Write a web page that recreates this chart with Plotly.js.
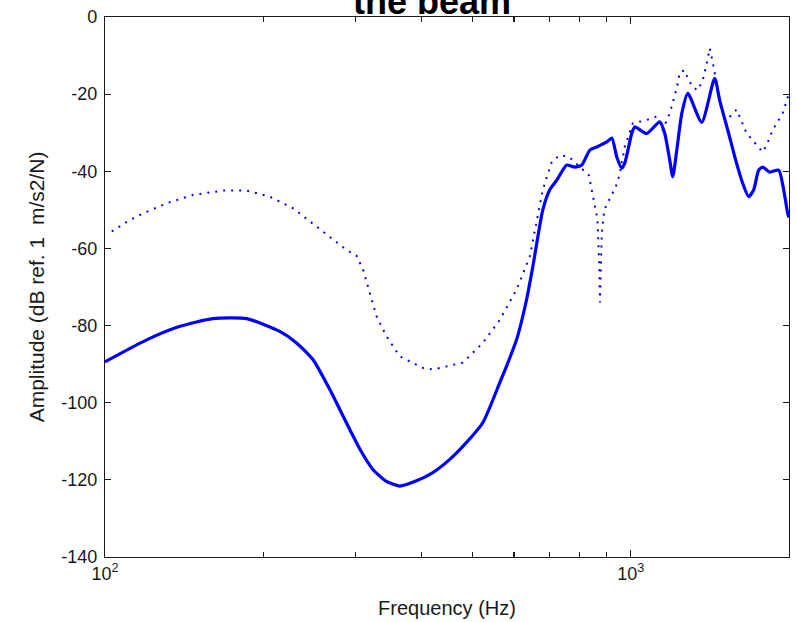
<!DOCTYPE html>
<html>
<head>
<meta charset="utf-8">
<script src="https://cdn.plot.ly/plotly-3.0.1.min.js"></script>
<style>html,body{margin:0;padding:0;background:#fff;}#plot{width:796px;height:622px;}</style>
</head>
<body>
<div id="plot"></div>
<script>
// Solid curve: frequency (Hz) and amplitude (dB)
const solidFreq = [100, 120, 138.9, 160.4, 186, 215, 231.4, 248.6, 267.7, 279.8, 292.3, 305.3, 323.2, 342.2, 363.8, 390.2, 420.4, 452.7, 487.2, 523.1, 563.6, 606.4, 633.6, 651.3, 680.4, 701.5, 723.4, 755.6, 782.5, 806.8, 835.9, 861.9, 900.5, 920.4, 940.7, 961.4, 974.1, 1004.4, 1017.6, 1072.5, 1135.5, 1160.6, 1186.3, 1202, 1223.5, 1250.6, 1283.9, 1364.6, 1444.4, 1476.4, 1535.7, 1583.5, 1632.7, 1676.2, 1713.3, 1751.2, 1782.5, 1837.9, 1911.7, 1953.9, 1988.4, 2000];
const solidAmp  = [-89.4, -83.7, -80.2, -78.2, -78.2, -81.5, -84.5, -88.8, -96.6, -101.8, -107, -112, -117.3, -120.3, -121.6, -120.3, -118.1, -114.7, -110.3, -105.2, -94.8, -83.7, -73.3, -64.7, -50, -44.8, -42.3, -38.4, -38.9, -38.4, -34.5, -33.7, -32.4, -31.4, -36.3, -39.2, -37.9, -30.2, -28.5, -30.2, -27.2, -30.2, -37.1, -41.4, -34.5, -25, -19.8, -27.3, -15.9, -21.6, -30.2, -37.1, -43.1, -46.6, -44.8, -39.7, -38.9, -40.2, -39.7, -44.8, -50.9, -52];

// Dotted curve: frequency (Hz) and amplitude (dB)
const dotFreq = [103, 111.6, 120, 131, 147.2, 167.9, 186, 205.9, 228, 245.3, 263.9, 288, 301, 309.8, 319, 328.5, 343.2, 363.8, 402.9, 420.4, 479.4, 523.1, 563.6, 606.4, 642.7, 680.4, 707.8, 732.8, 762.3, 799.8, 832.2, 850.6, 864.5, 871, 874, 881, 890.6, 916.2, 936.6, 951, 974.1, 1009, 1072, 1120, 1150, 1186, 1223, 1240, 1267, 1284, 1312, 1341, 1371, 1395, 1413, 1432, 1457, 1489, 1515, 1590, 1662, 1782, 1814, 1862, 1945, 2000];
const dotAmp  = [-55.6, -52.6, -50.5, -48.3, -46.1, -45, -45, -46.6, -49.6, -53, -56.5, -60.4, -61.9, -65.6, -71.6, -77.6, -82.8, -88, -91, -91.4, -89.6, -84.5, -78.5, -70.7, -62.1, -44.8, -37.5, -35.8, -36.2, -38.8, -41, -47.5, -52.6, -64, -74, -56, -50, -46.6, -44, -41.2, -33.6, -27.6, -26.7, -25.8, -29.3, -25, -18.5, -14.3, -13.8, -15.9, -18.2, -19, -16.4, -12, -8.1, -11.7, -17.2, -24, -27, -24, -30.2, -35, -33.2, -29.3, -25, -19.8];

// Axis ticks
const xTickVals = [100, 1000];
const xTickText = ['10<sup>2</sup>', '10<sup>3</sup>'];
const xMinorVals = [200, 300, 400, 500, 600, 700, 800, 900, 2000];
const yTickVals = [-140, -120, -100, -80, -60, -40, -20, 0];
const yTickText = ['-140', '-120', '-100', '-80', '-60', '-40', '-20', '0'];

const titleText = 'the beam';
const xTitle = 'Frequency (Hz)';
const yTitle = 'Amplitude (dB ref. 1  m/s2/N)';

const FONT = 'Liberation Sans, Arial, Helvetica, sans-serif';
const AX = '#1a1a1a';

const traces = [
  {x: dotFreq, y: dotAmp, type: 'scatter', mode: 'lines',
   line: {color: '#0000FF', width: 2, dash: '2px,6px'}, hoverinfo: 'skip'},
  {x: solidFreq, y: solidAmp, type: 'scatter', mode: 'lines',
   line: {color: '#0000FF', width: 3.2, shape: 'spline', smoothing: 0.6}, hoverinfo: 'skip'}
];

const layout = {
  width: 796, height: 622,
  margin: {l: 105, r: 7, t: 17, b: 65, pad: 0},
  paper_bgcolor: '#ffffff', plot_bgcolor: '#ffffff',
  showlegend: false,
  font: {family: FONT, size: 17, color: AX},
  xaxis: {
    type: 'log', range: [2, Math.log10(2000)],
    tickmode: 'array', tickvals: xTickVals, ticktext: xTickText,
    ticks: 'inside', ticklen: 7, tickwidth: 1.2, tickcolor: AX,
    minor: {tickmode: 'array', tickvals: xMinorVals, ticks: 'inside', ticklen: 5, tickwidth: 1.2, tickcolor: AX, showgrid: false},
    showline: true, linecolor: AX, linewidth: 1.2, mirror: 'allticks',
    showgrid: false, zeroline: false,
    tickfont: {family: FONT, size: 18, color: AX},
    title: {text: xTitle, font: {family: FONT, size: 20, color: AX}, standoff: 18}
  },
  yaxis: {
    range: [-140, 0],
    tickmode: 'array', tickvals: yTickVals, ticktext: yTickText,
    ticks: 'inside', ticklen: 6, tickwidth: 1.2, tickcolor: AX,
    ticklabelstandoff: 3,
    showline: true, linecolor: AX, linewidth: 1.2, mirror: 'allticks',
    showgrid: false, zeroline: false,
    tickfont: {family: FONT, size: 18, color: AX},
    title: {text: yTitle, font: {family: FONT, size: 21, color: AX}, standoff: 10}
  },
  annotations: [{
    text: '<b>' + titleText + '</b>', xref: 'paper', yref: 'paper',
    x: 0.478, y: 0.987, xanchor: 'center', yanchor: 'bottom',
    showarrow: false, font: {family: FONT, size: 36, color: '#000000'}
  }]
};

Plotly.newPlot('plot', traces, layout, {staticPlot: true, displayModeBar: false});
</script>
</body>
</html>
